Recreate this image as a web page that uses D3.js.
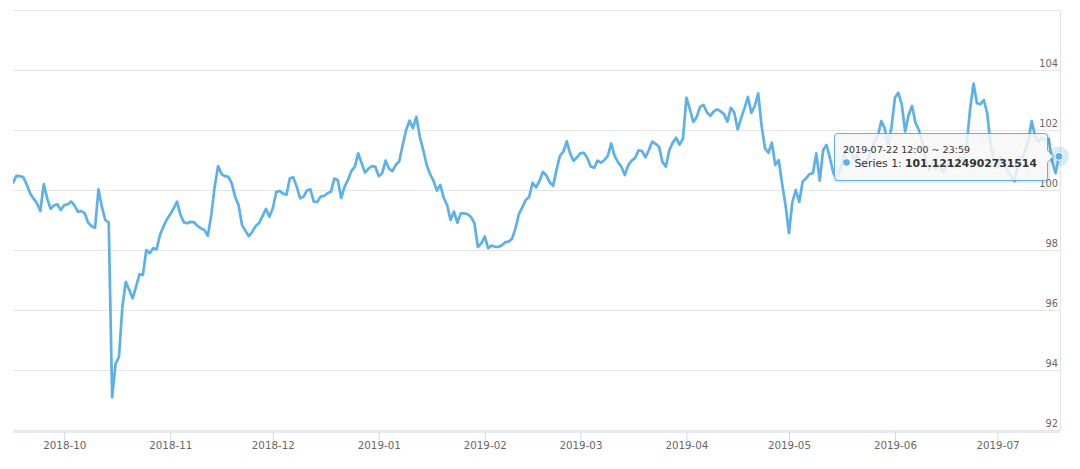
<!DOCTYPE html>
<html><head><meta charset="utf-8">
<script src="https://cdn.jsdelivr.net/npm/d3@7"></script>
<style>body{margin:0;background:#fff;} svg{display:block;}</style>
</head><body>
<svg id="chart" width="1080" height="469"></svg>
<script>
// ---- data ----
const startDate = "2018-09-16";
const values = [
100.24,100.47,100.46,100.43,100.19,99.89,99.72,99.56,99.3,100.2,
99.72,99.37,99.49,99.52,99.33,99.5,99.52,99.62,99.48,99.27,
99.3,99.22,98.91,98.79,98.74,100.02,99.44,99.0,98.92,93.09,
94.2,94.44,96.11,96.94,96.67,96.39,96.78,97.19,97.17,98.0,
97.89,98.06,98.02,98.5,98.78,99.02,99.19,99.39,99.61,99.17,
98.92,98.89,98.94,98.92,98.8,98.72,98.67,98.47,99.16,100.11,
100.8,100.53,100.46,100.44,100.22,99.77,99.49,98.83,98.64,98.46,
98.61,98.8,98.9,99.13,99.37,99.11,99.39,99.93,99.97,99.88,
99.84,100.39,100.42,100.11,99.72,99.78,99.99,100.02,99.61,99.6,
99.78,99.8,99.89,99.94,100.38,100.33,99.73,100.11,100.34,100.63,
100.78,101.22,100.89,100.58,100.71,100.8,100.77,100.46,100.56,100.98,
100.71,100.63,100.84,100.96,101.5,102.0,102.31,102.06,102.44,101.78,
101.34,100.84,100.53,100.31,99.98,100.17,99.74,99.5,99.0,99.28,
98.91,99.22,99.22,99.19,99.1,98.89,98.1,98.22,98.45,98.06,
98.15,98.11,98.1,98.16,98.26,98.28,98.37,98.72,99.2,99.42,
99.67,99.77,100.24,100.09,100.3,100.6,100.49,100.26,100.14,100.67,
101.14,101.28,101.62,101.21,100.97,101.09,101.23,101.24,101.07,100.78,
100.74,100.98,100.91,101.0,101.14,101.55,101.14,100.92,100.77,100.5,
100.83,100.98,101.07,101.32,101.3,101.09,101.33,101.61,101.54,101.44,
100.93,100.78,101.33,101.58,101.74,101.51,101.71,103.08,102.7,102.27,
102.43,102.77,102.84,102.59,102.47,102.62,102.69,102.62,102.53,102.28,
102.74,102.58,102.02,102.39,102.73,103.1,102.57,102.8,103.22,102.13,
101.39,101.24,101.58,100.83,101.0,100.2,99.5,98.56,99.6,100.0,
99.6,100.28,100.39,100.53,100.56,101.22,100.31,101.33,101.5,101.06,
100.56,100.35,100.7,101.1,101.45,101.3,101.0,101.2,100.9,100.75,
101.0,101.3,101.6,101.8,102.3,102.06,101.45,102.1,103.08,103.24,
102.85,101.95,102.5,102.8,102.25,102.0,101.6,101.0,100.65,100.9,
100.7,100.85,100.6,100.8,101.0,100.75,100.9,101.1,101.0,101.5,
102.7,103.55,102.89,102.86,103.0,102.56,101.5,101.0,100.75,101.1,
100.9,100.6,100.45,100.3,100.8,101.0,101.3,101.6,102.3,101.8,
101.6,101.75,101.65,101.7,100.95,100.56,101.12
];
const yGridValues = [92, 94, 96, 98, 100, 102, 104, 106];
const yLabelValues = [92, 94, 96, 98, 100, 102, 104];
const xTickLabels = ["2018-10","2018-11","2018-12","2019-01","2019-02","2019-03","2019-04","2019-05","2019-06","2019-07"];
const seriesName = "Series 1";
const tooltipHeader = "2019-07-22 12:00 ~ 23:59";
const tooltipValue = "101.12124902731514";

// ---- layout ----
const lineColor = "#5cb1e9";
const pLeft = 13, pRight = 1060, pTop = 10, pBottom = 430;
const svg = d3.select("#chart");

const t0 = d3.utcParse("%Y-%m-%d")(startDate);
const dates = values.map((v, i) => d3.utcDay.offset(t0, i));
const x = d3.scaleUtc().domain([dates[0], dates[dates.length - 1]]).range([pLeft, 1059]);
const y = d3.scaleLinear().domain([92, 106]).range([pBottom, pTop]);

// grid lines
svg.append("g").selectAll("line").data(yGridValues).join("line")
  .attr("x1", pLeft).attr("x2", pRight)
  .attr("y1", d => Math.round(y(d)) + 0.5).attr("y2", d => Math.round(y(d)) + 0.5)
  .attr("stroke", "#e6e6e6").attr("stroke-width", 1);

// right axis line
svg.append("line").attr("x1", pRight + 0.5).attr("x2", pRight + 0.5)
  .attr("y1", pTop).attr("y2", pBottom + 1).attr("stroke", "#e3e3e3");

// y labels (inside, right aligned)
svg.append("g").selectAll("text").data(yLabelValues).join("text")
  .attr("x", pRight - 2).attr("y", d => y(d) - 3)
  .attr("text-anchor", "end")
  .attr("font-family", "DejaVu Sans, sans-serif").attr("font-size", "9.8px")
  .attr("fill", "#666666").text(d => d);

// x axis
const tickDates = xTickLabels.map(s => d3.utcParse("%Y-%m")(s));
const xAxis = d3.axisBottom(x).tickValues(tickDates)
  .tickFormat(d3.utcFormat("%Y-%m")).tickSizeInner(9).tickSizeOuter(0).tickPadding(1);
const gx = svg.append("g").attr("transform", `translate(0,${pBottom + 1.5})`).call(xAxis);
gx.select(".domain").attr("stroke", "#ccd6eb").attr("d", `M${pLeft},0.5H${pRight}`);
gx.selectAll(".tick line").attr("stroke", "#ccd6eb");
gx.selectAll(".tick text").attr("fill", "#666666")
  .attr("font-family", "DejaVu Sans, sans-serif").attr("font-size", "10.3px").attr("dy", "0.71em");

// line
svg.append("clipPath").attr("id", "clip").append("rect")
  .attr("x", pLeft).attr("y", 0).attr("width", pRight - pLeft).attr("height", pBottom);
const line = d3.line().x((d, i) => x(dates[i])).y(d => y(d));
svg.append("path").datum(values)
  .attr("clip-path", "url(#clip)")
  .attr("d", line).attr("fill", "none").attr("stroke", lineColor)
  .attr("stroke-width", 2.7).attr("stroke-linejoin", "round").attr("stroke-linecap", "round");

// hover marker
const ax = x(dates[dates.length - 1]), ay = y(values[values.length - 1]);
svg.append("circle").attr("cx", ax).attr("cy", ay).attr("r", 10).attr("fill", lineColor).attr("opacity", 0.25);
svg.append("circle").attr("cx", ax).attr("cy", ay).attr("r", 4).attr("fill", lineColor)
  .attr("stroke", "#fff").attr("stroke-width", 1);

// tooltip (callout anchored left of the hovered point)
const tw = 213, th = 47;
const bx = Math.round(ax - 12 - tw) + 0.5, by = Math.round(ay - 23) + 0.5, rr = 3;
const bxr = bx + tw, byb = by + th;
const p = `M${bx + rr},${by} H${bxr - rr} Q${bxr},${by} ${bxr},${by + rr} V${ay - 6} L${bxr + 6},${ay} L${bxr},${ay + 6} V${byb - rr} Q${bxr},${byb} ${bxr - rr},${byb} H${bx + rr} Q${bx},${byb} ${bx},${byb - rr} V${by + rr} Q${bx},${by} ${bx + rr},${by} Z`;
const tip = svg.append("g");
tip.append("path").attr("d", p).attr("transform", "translate(1,1)")
  .attr("fill", "none").attr("stroke", "rgba(0,0,0,0.08)").attr("stroke-width", 3);
tip.append("path").attr("d", p).attr("fill", "rgba(247,247,247,0.85)")
  .attr("stroke", lineColor).attr("stroke-width", 1);
tip.append("text").attr("x", bx + 8.5).attr("y", by + 19.5)
  .attr("font-family", "DejaVu Sans, sans-serif").attr("font-size", "9.5px").attr("fill", "#333333")
  .text(tooltipHeader);
tip.append("circle").attr("cx", bx + 12).attr("cy", by + 29).attr("r", 3.3).attr("fill", lineColor);
const tt = tip.append("text").attr("x", bx + 20).attr("y", by + 33)
  .attr("font-family", "DejaVu Sans, sans-serif").attr("font-size", "10.8px").attr("fill", "#333333");
tt.append("tspan").text(seriesName + ": ");
tt.append("tspan").attr("font-weight", "bold").text(tooltipValue);
</script>
</body></html>
